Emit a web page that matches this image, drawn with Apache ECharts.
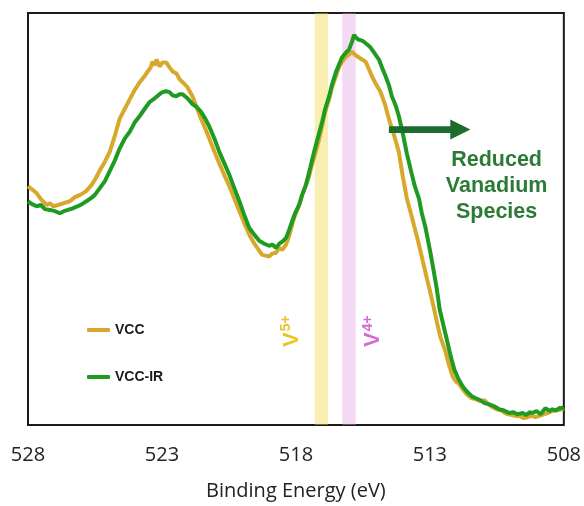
<!DOCTYPE html>
<html><head><meta charset="utf-8">
<script src="https://cdn.jsdelivr.net/npm/echarts@6/dist/echarts.min.js"></script>
<style>html,body{margin:0;padding:0;background:#fff}#c{width:584px;height:506px}</style>
</head><body><div id="c"></div>
<script>
// ---- data ----
const seriesNames = ['VCC', 'VCC-IR'];
const tickValues = [528, 523, 518, 513, 508];

const vccEnergy = [528.00,527.85,527.68,527.52,527.30,527.18,527.06,526.88,526.69,526.44,526.25,526.07,525.84,525.63,525.47,525.32,525.13,524.95,524.76,524.58,524.39,524.20,524.02,523.83,523.68,523.53,523.42,523.35,523.27,523.20,523.09,522.98,522.84,522.72,522.60,522.46,522.34,522.23,522.05,521.86,521.71,521.54,521.38,521.23,521.04,520.86,520.67,520.48,520.30,520.11,519.93,519.74,519.55,519.37,519.26,519.12,519.00,518.88,518.75,518.62,518.51,518.37,518.25,518.14,518.03,517.88,517.77,517.63,517.51,517.40,517.25,517.13,517.02,516.91,516.76,516.65,516.51,516.39,516.28,516.13,516.02,515.91,515.76,515.65,515.53,515.40,515.27,515.16,515.01,514.84,514.68,514.53,514.34,514.16,514.01,513.86,513.71,513.60,513.49,513.41,513.27,513.12,513.01,512.86,512.74,512.61,512.44,512.30,512.15,512.04,511.93,511.78,511.63,511.44,511.29,511.11,510.96,510.81,510.66,510.51,510.36,510.19,510.07,509.92,509.80,509.66,509.51,509.36,509.21,509.06,508.91,508.76,508.61,508.43,508.24,508.06,508.00];
const vccIntensity = [57.9,57.2,56.3,54.8,53.4,53.8,53.1,53.4,53.8,54.3,55.3,55.8,56.7,58.2,59.9,61.8,63.9,66.3,70.2,74.3,76.7,79.1,81.3,83.2,84.4,85.8,86.8,88.2,87.3,88.7,87.0,88.0,88.0,86.8,85.8,85.3,83.9,83.2,82.0,79.8,77.2,74.3,71.9,69.5,66.3,63.5,60.6,57.9,55.0,51.9,49.0,46.2,44.0,42.3,41.3,41.1,40.9,41.6,41.8,43.0,42.5,43.8,45.9,48.6,51.0,53.4,55.8,58.2,60.3,63.2,66.6,69.5,72.6,76.0,79.1,82.0,84.6,86.8,88.2,89.4,89.9,90.6,89.7,89.2,88.7,88.2,86.3,84.6,82.7,80.8,77.9,74.3,70.4,66.3,60.3,55.0,51.4,48.6,45.9,43.8,39.9,35.8,32.9,28.6,25.0,21.4,18.3,14.9,11.8,10.6,10.1,8.7,7.5,6.5,6.3,5.8,6.0,5.0,4.3,3.8,3.6,2.9,2.6,2.4,2.2,2.2,1.7,1.9,2.2,1.9,2.2,2.6,2.9,3.4,3.6,3.8,3.8];

const irEnergy = [528.00,527.85,527.68,527.52,527.37,527.18,527.00,526.81,526.66,526.51,526.33,526.14,525.99,525.82,525.66,525.51,525.32,525.13,524.95,524.76,524.58,524.39,524.20,524.02,523.83,523.65,523.46,523.27,523.09,522.98,522.84,522.72,522.60,522.47,522.34,522.23,522.05,521.86,521.71,521.54,521.38,521.23,521.04,520.86,520.67,520.48,520.30,520.11,519.93,519.74,519.55,519.37,519.18,519.00,518.88,518.75,518.62,518.51,518.37,518.25,518.14,518.03,517.88,517.77,517.63,517.47,517.32,517.17,517.02,516.91,516.76,516.65,516.51,516.39,516.28,516.13,516.02,515.91,515.83,515.76,515.65,515.53,515.42,515.35,515.24,515.16,515.05,514.90,514.79,514.65,514.53,514.42,514.27,514.16,514.01,513.86,513.71,513.56,513.41,513.30,513.16,513.00,512.86,512.74,512.63,512.48,512.33,512.22,512.09,511.93,511.78,511.63,511.44,511.29,511.11,510.96,510.78,510.62,510.41,510.25,510.04,509.88,509.73,509.54,509.40,509.28,509.17,509.02,508.87,508.69,508.54,508.43,508.28,508.17,508.06,508.00];
const irIntensity = [54.3,53.6,53.1,53.4,52.4,52.2,51.9,51.4,51.9,52.2,52.6,53.1,53.6,54.3,55.0,55.8,57.5,59.2,61.6,64.2,67.1,69.5,71.2,73.4,75.0,76.7,78.4,79.3,80.3,80.8,81.0,80.8,80.0,79.8,80.3,80.3,79.3,77.9,77.2,76.0,74.3,72.4,69.5,66.3,63.5,60.6,57.5,54.3,51.0,47.8,46.2,44.7,44.0,43.5,43.8,43.0,44.0,44.5,45.4,47.4,49.5,51.4,53.4,55.8,58.2,62.3,66.3,70.0,73.6,76.7,79.8,82.7,85.6,87.5,89.2,90.4,91.1,93.0,94.7,94.0,93.5,93.3,92.8,93.0,91.8,91.1,90.1,88.7,86.8,84.6,82.5,79.8,77.4,75.0,70.7,65.9,61.8,57.9,55.0,51.4,47.8,42.5,37.5,32.9,27.9,23.8,19.7,16.6,13.5,11.1,9.4,8.2,7.0,6.5,6.0,5.3,5.0,4.6,3.8,3.6,2.9,3.1,2.6,2.9,2.4,3.1,2.9,3.4,2.6,4.1,3.4,3.8,3.6,4.1,4.1,4.3];

// oxidation-state reference bands (binding energy ranges, eV)
const bandLabels = ['V5+', 'V4+'];
const bandFrom = [517.30, 516.27];
const bandTo = [516.80, 515.77];

// ---- chart ----
const zip = (xs, ys) => xs.map((x, i) => [x, ys[i]]);
const GOLD = '#D7A82B', GREEN = '#1F9B22';
const chart = echarts.init(document.getElementById('c'), null, {renderer: 'canvas'});
const option = {
  animation: false,
  grid: {left: 28, right: 18.5, top: 13, bottom: 77, show: true, borderColor: '#1a1a1a', borderWidth: 2, backgroundColor: 'transparent'},
  xAxis: {
    type: 'value', min: 508, max: 528, interval: 5, inverse: true,
    axisLine: {show: false}, axisTick: {show: false}, splitLine: {show: false},
    axisLabel: {margin: 20, fontSize: 20, fontFamily: 'Open Sans', color: '#222',
      formatter: v => tickValues.includes(v) ? String(v) : ''},
    name: 'Binding Energy (eV)', nameLocation: 'middle', nameGap: 56,
    nameTextStyle: {fontSize: 20, fontFamily: 'Open Sans', color: '#222'}
  },
  yAxis: {type: 'value', min: 0, max: 100, show: false},
  legend: {
    data: seriesNames, orient: 'vertical', left: 87, top: 323, padding: 0,
    itemWidth: 23, itemHeight: 4, itemGap: 33, icon: 'roundRect',
    textStyle: {fontFamily: 'Liberation Sans', fontWeight: 'bold', fontSize: 14, color: '#1a1a1a'}
  },
  series: [
    {name: seriesNames[0], type: 'line', data: zip(vccEnergy, vccIntensity), symbol: 'none', z: 2,
      lineStyle: {width: 4, color: GOLD}, itemStyle: {color: GOLD}},
    {name: seriesNames[1], type: 'line', data: zip(irEnergy, irIntensity), symbol: 'none', z: 3,
      lineStyle: {width: 4, color: GREEN}, itemStyle: {color: GREEN}},
    {name: 'bands', type: 'line', data: [], z: 5, silent: true,
      markArea: {silent: true, data: [
        [{xAxis: bandFrom[0], itemStyle: {color: 'rgba(240,214,70,0.42)'}}, {xAxis: bandTo[0]}],
        [{xAxis: bandFrom[1], itemStyle: {color: 'rgba(226,160,220,0.40)'}}, {xAxis: bandTo[1]}]
      ]}}
  ]
};
chart.setOption(option);

// ---- annotations anchored in data coordinates ----
const px = p => chart.convertToPixel({gridIndex: 0}, p);
const arrowFrom = px([514.53, 71.7]);
const arrowTip = px([511.49, 71.7]);
const notePos = px([510.51, 57.9]);
const v5Pos = px([518.18, 22.8]);
const v4Pos = px([515.13, 22.8]);
const headLen = 20, headHalf = 10, shaftHalf = 3.4;
const ARROW = '#1E6B2E', NOTE = '#2B7B36';
function vLabel(pos, sup, color) {
  return {type: 'text', x: pos[0], y: pos[1], rotation: Math.PI / 2, z: 100,
    style: {text: '{v|V}{s|' + sup + '}', align: 'center', verticalAlign: 'middle',
      rich: {v: {fontSize: 22, fontWeight: 'bold', fontFamily: 'Liberation Sans', fill: color, lineHeight: 23, verticalAlign: 'bottom'},
             s: {fontSize: 14, fontWeight: 'bold', fontFamily: 'Liberation Sans', fill: color, lineHeight: 23, verticalAlign: 'top', padding: [0, 0, 0, 1]}}}};
}
chart.setOption({graphic: [
  {type: 'rect', z: 100, shape: {x: arrowFrom[0], y: arrowFrom[1] - shaftHalf, width: arrowTip[0] - headLen - arrowFrom[0] + 1, height: shaftHalf * 2}, style: {fill: ARROW}},
  {type: 'polygon', z: 100, shape: {points: [[arrowTip[0] - headLen, arrowTip[1] - headHalf], [arrowTip[0], arrowTip[1]], [arrowTip[0] - headLen, arrowTip[1] + headHalf]]}, style: {fill: ARROW}},
  {type: 'text', z: 100, x: notePos[0], y: notePos[1],
    style: {text: 'Reduced\nVanadium\nSpecies', align: 'center', verticalAlign: 'middle', lineHeight: 26,
      fontSize: 21.5, fontWeight: 'bold', fontFamily: 'Liberation Sans', fill: NOTE}},
  vLabel(v5Pos, '5+', '#EEC424'),
  vLabel(v4Pos, '4+', '#D96AD3')
]});
</script>
</body></html>
